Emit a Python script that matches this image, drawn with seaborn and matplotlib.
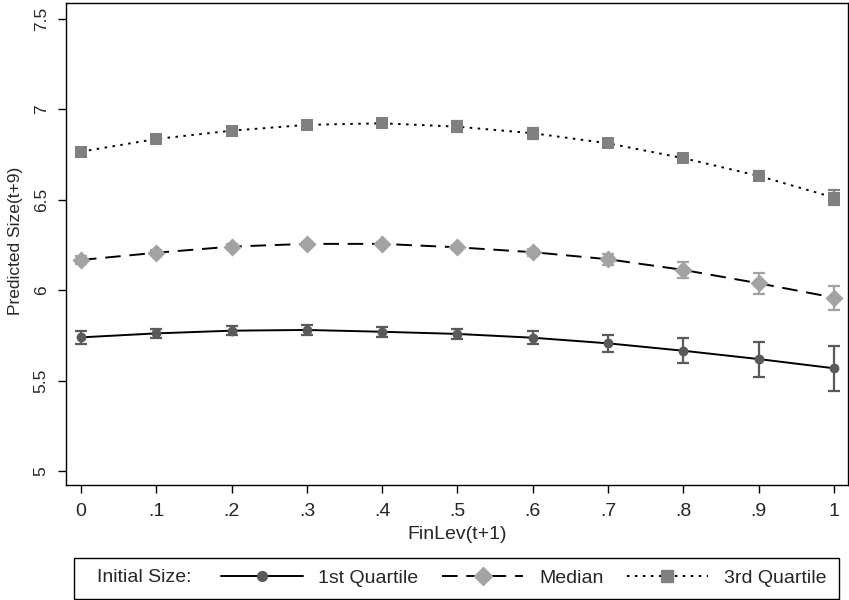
import numpy as np
import pandas as pd
import seaborn as sns
import matplotlib.pyplot as plt
from matplotlib.lines import Line2D
from matplotlib.patches import Rectangle

# data
finlev = [0, .1, .2, .3, .4, .5, .6, .7, .8, .9, 1]
xtick_labels = ['0', '.1', '.2', '.3', '.4', '.5', '.6', '.7', '.8', '.9', '1']
yticks = [5, 5.5, 6, 6.5, 7, 7.5]
ytick_labels = ['5', '5.5', '6', '6.5', '7', '7.5']

q1 = [5.739, 5.761, 5.776, 5.780, 5.770, 5.758, 5.737, 5.706, 5.665, 5.619, 5.568]
q1_ci = [0.037, 0.025, 0.025, 0.028, 0.028, 0.030, 0.035, 0.046, 0.069, 0.097, 0.126]
med = [6.167, 6.207, 6.241, 6.256, 6.256, 6.237, 6.210, 6.171, 6.112, 6.038, 5.959]
med_ci = [0.020, 0.015, 0.012, 0.012, 0.012, 0.015, 0.020, 0.030, 0.043, 0.057, 0.066]
q3 = [6.766, 6.836, 6.882, 6.914, 6.923, 6.904, 6.868, 6.812, 6.730, 6.632, 6.512]
q3_ci = [0.020, 0.015, 0.015, 0.015, 0.015, 0.030, 0.030, 0.020, 0.020, 0.025, 0.041]

series_names = ['1st Quartile', 'Median', '3rd Quartile']

sns.set_style("ticks")
plt.rcParams['font.family'] = ['Liberation Sans', 'DejaVu Sans']

fig = plt.figure(figsize=(8.49, 6.0), dpi=100)
ax = fig.add_axes([66/849, 115/600, 782/849, 482/600])

styles = [
    # values, ci, marker, color, scatter size, legend ms, linestyle
    (q1, q1_ci, 'o', '#5a5a5a', 50, 7, '-'),
    (med, med_ci, 'D', '#a3a3a3', 85, 9, (0, (8, 4.5))),
    (q3, q3_ci, 's', '#808080', 80, 8.8, (0, (1.3, 2.8))),
]

handles = []
for name, (vals, ci, m, col, s, ms, ls) in zip(series_names, styles):
    df = pd.DataFrame({'x': finlev, 'y': vals})
    sns.lineplot(data=df, x='x', y='y', color='black', lw=1.4, linestyle=ls, ax=ax, zorder=2)
    ax.errorbar(finlev, vals, yerr=ci, fmt='none', ecolor=col, elinewidth=1.6,
                capsize=4, capthick=1.6, zorder=3)
    sns.scatterplot(data=df, x='x', y='y', marker=m, s=s, color=col, linewidth=0, ax=ax, zorder=4)
    handles.append(Line2D([], [], color='black', lw=1.4, linestyle=ls, marker=m, markersize=ms,
                          markerfacecolor=col, markeredgecolor=col))

ax.set_xlim(-0.0199, 1.0186)
ax.set_ylim(4.9226, 7.588)
ax.set_xticks(finlev)
ax.set_xticklabels(xtick_labels, fontsize=14)
ax.set_yticks(yticks)
ax.set_yticklabels(ytick_labels, fontsize=12.5, rotation=90, va='center')
ax.tick_params(axis='both', direction='out', length=6, width=1, color='black')
ax.tick_params(axis='x', pad=7)
ax.tick_params(axis='y', pad=6.5)
for sp in ax.spines.values():
    sp.set_visible(True)
    sp.set_color('black')
    sp.set_linewidth(1)

ax.set_xlabel('FinLev(t+1)', fontsize=14, va='center')
ax.xaxis.set_label_coords(0.5, -0.1037)
ax.set_ylabel('Predicted Size(t+9)', fontsize=12.5, va='center')
ax.yaxis.set_label_coords(-0.065, 0.506)

# legend box, Stata style
fig.add_artist(Rectangle((74/849, 1/600), 765/849, 41/600, transform=fig.transFigure,
                         fill=False, ec='black', lw=1))
fig.text(97/849, 22/600, 'Initial Size:', fontsize=14, ha='left', va='center')
fig.legend(handles, series_names, ncol=3, loc='center left', bbox_to_anchor=(221/849, 22/600),
           frameon=False, fontsize=14, handlelength=4.2, handletextpad=0.8,
           columnspacing=1.2, borderpad=0, borderaxespad=0)

fig.savefig('out.png', dpi=100)
